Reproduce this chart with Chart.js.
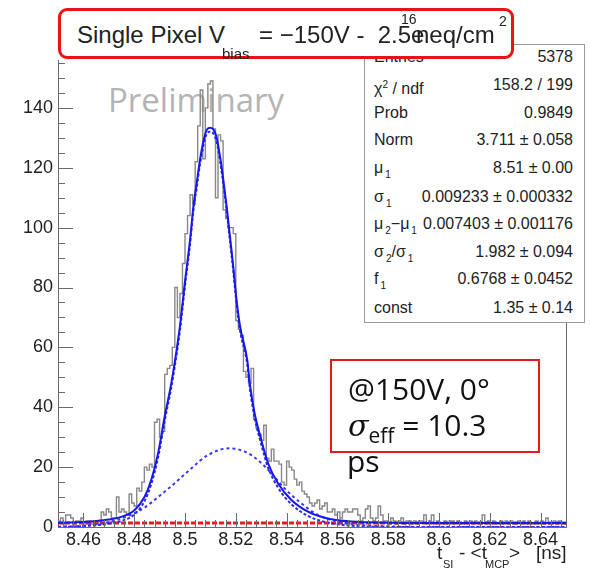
<!DOCTYPE html>
<html>
<head>
<meta charset="utf-8">
<script src="https://cdn.jsdelivr.net/npm/chart.js@4.4.1/dist/chart.umd.min.js"></script>
<style>
body { margin: 0; background: #fff; }
#wrap { position: relative; width: 590px; height: 577px; overflow: hidden; font-family: "Liberation Sans", Arial, sans-serif; color: #222; }
#wrap .t { position: absolute; white-space: nowrap; line-height: 1; }
#chart { position: absolute; left: 0; top: 0; z-index: 1; }
#prelim { z-index: 0; left: 108px; top: 83px; font-family: "Open Sans"; font-size: 33px; color: #b4b4b4; }
#stats { position: absolute; z-index: 2; left: 364px; top: 44px; width: 219px; height: 277px; border: 1px solid #999; background: #fff; }
#stats .k, #stats .v { position: absolute; font-size: 16px; line-height: 16px; white-space: nowrap; }
#stats .k { left: 9px; }
#stats .v { right: 11px; }
#stats sub { font-size: 10px; vertical-align: -5px; margin-left: 2px; }
#stats sup { font-size: 10px; vertical-align: 6px; }
#titlebox { position: absolute; z-index: 3; left: 58px; top: 8px; width: 450px; height: 45px; border: 3px solid #ef1111; border-radius: 9px; background: #fff; }
.tt { z-index: 4; font-size: 24px; }
#notebox { position: absolute; z-index: 3; left: 330px; top: 359px; width: 206px; height: 90px; border: 2px solid #e61a1a; }
.note { z-index: 4; font-family: "Open Sans"; font-size: 30px; color: #111; }
.xt { z-index: 4; font-size: 19px; }
.xs { z-index: 4; font-size: 11px; }
</style>
</head>
<body>
<div id="wrap">
  <div class="t" id="prelim">Preliminary</div>
  <canvas id="chart" width="590" height="577"></canvas>
  <div id="stats"></div>
  <div id="titlebox"></div>
  <span class="t tt" style="left:77px;top:23px">Single Pixel V</span>
  <span class="t tt" style="left:222px;top:46px;font-size:15px">bias</span>
  <span class="t tt" style="left:259px;top:23px">= &minus;150V -&nbsp;&nbsp;2.5e</span>
  <span class="t tt" style="left:401px;top:12px;font-size:14px">16</span>
  <span class="t tt" style="left:416px;top:23px">neq/cm</span>
  <span class="t tt" style="left:499px;top:14px;font-size:14px">2</span>
  <div id="notebox"></div>
  <span class="t note" style="left:348px;top:374px">@150V, 0°</span>
  <span class="t note" style="left:348px;top:410px"><span style="font-family:'DejaVu Serif';font-style:italic">σ</span><sub style="font-size:21px">eff</sub> = 10.3</span>
  <span class="t note" style="left:347px;top:446px">ps</span>
  <span class="t xt" style="left:437px;top:543px">t</span>
  <span class="t xs" style="left:443px;top:559px">SI</span>
  <span class="t xt" style="left:459px;top:543px">- &lt;t</span>
  <span class="t xs" style="left:485px;top:559px">MCP</span>
  <span class="t xt" style="left:509px;top:543px">&gt;</span>
  <span class="t xt" style="left:536px;top:543px">[ns]</span>
</div>
<script>
// histogram: 200 bins from 8.45 to 8.65 ns
const histMin = 8.45;
const histMax = 8.65;
const binWidth = 0.001;
const counts = [
    2, 2, 3, 1, 4, 4, 3, 1, 2, 2,
    3, 1, 2, 2, 1, 2, 1, 2, 5, 4,
    6, 5, 3, 3, 10, 5, 6, 5, 4, 11,
    8, 7, 13, 12, 15, 20, 19, 21, 20, 35,
    36, 30, 32, 51, 53, 54, 60, 80, 70, 78,
    88, 98, 104, 111, 108, 122, 134, 146, 123, 140,
    148, 149, 133, 110, 131, 129, 106, 103, 100, 100,
    98, 69, 66, 64, 52, 50, 48, 53, 36, 33,
    31, 29, 34, 23, 22, 26, 22, 22, 21, 15,
    14, 22, 20, 19, 16, 14, 15, 12, 11, 10,
    8, 7, 8, 9, 6, 7, 8, 5, 5, 6,
    4, 5, 3, 5, 6, 5, 5, 6, 6, 4,
    2, 3, 6, 7, 3, 2, 3, 7, 4, 2,
    2, 1, 3, 2, 1, 2, 3, 1, 2, 2,
    1, 2, 1, 2, 2, 4, 1, 2, 4, 1,
    2, 1, 1, 2, 1, 2, 2, 1, 2, 1,
    1, 2, 1, 2, 1, 2, 1, 1, 4, 1,
    2, 1, 2, 1, 1, 2, 1, 2, 1, 2,
    1, 1, 2, 1, 2, 1, 2, 1, 1, 2,
    1, 2, 1, 3, 1, 1, 2, 1, 2, 1
];

// fit curves
const fitX = [8.45, 8.455, 8.46, 8.465, 8.47, 8.4749, 8.4802, 8.4841, 8.4867, 8.4894, 8.4920, 8.4946, 8.4965, 8.4980, 8.5000,
    8.5020, 8.5033, 8.5046, 8.5059, 8.5072, 8.5085, 8.5098, 8.5111, 8.5125, 8.5138, 8.5151, 8.5164, 8.5177, 8.5190,
    8.5203, 8.5217, 8.5245, 8.5255, 8.5274, 8.5300, 8.5327, 8.5366, 8.5419, 8.5484, 8.5550, 8.5655, 8.58, 8.60, 8.62, 8.65];
const fitTotal = [1.4, 1.5, 1.7, 2.0, 2.5, 3.4, 5.7, 10.1, 15.7, 24.6, 36.9, 48.0, 58.0, 67.0, 82.0,
    96.0, 107.0, 114.8, 122.6, 128.7, 132.6, 133.4, 132.9, 129.9, 123.7, 115.9, 107.0, 97.0, 87.0,
    75.8, 66.9, 55.8, 48.0, 38.0, 29.1, 21.3, 14.6, 9.0, 5.1, 3.1, 1.8, 1.45, 1.36, 1.35, 1.35];
const fitSignal = [0.0, 0.1, 0.3, 0.6, 1.1, 2.0, 4.3, 8.7, 14.3, 23.2, 35.5, 46.6, 56.6, 65.6, 80.6,
    94.6, 105.6, 113.4, 121.2, 127.3, 131.2, 132.0, 131.5, 128.5, 122.3, 114.5, 105.6, 95.6, 85.6,
    74.4, 65.5, 54.4, 46.6, 36.6, 27.7, 19.9, 13.2, 7.6, 3.7, 1.7, 0.4, 0.05, 0, 0, 0];
const gaus2X = [8.45, 8.46, 8.468, 8.4762, 8.4841, 8.4894, 8.4959, 8.5025, 8.5091, 8.5176, 8.5235,
    8.5287, 8.5340, 8.5392, 8.5458, 8.5524, 8.5602, 8.57, 8.58, 8.60, 8.65];
const gaus2Y = [0.1, 0.4, 1.3, 3.2, 6.5, 10.0, 14.6, 19.6, 24.1, 26.3, 25.2,
    22.4, 17.9, 12.9, 7.9, 4.0, 1.8, 0.6, 0.2, 0, 0];
const constLevel = 1.35;

const xTickValues = [8.46, 8.48, 8.5, 8.52, 8.54, 8.56, 8.58, 8.6, 8.62, 8.64];
const yTickValues = [0, 20, 40, 60, 80, 100, 120, 140];
const yMax = 156;

function pts(xs, ys) {
    return xs.map((x, i) => ({ x: x, y: ys[i] }));
}

// histogram outline as steps at bin low edges
let histPoints = counts.map((c, i) => ({ x: histMin + i * binWidth, y: c }));
histPoints.push({ x: histMax, y: counts[counts.length - 1] });

// ROOT style inward ticks with minor divisions
const axisTicks = {
    id: 'axisTicks',
    afterDatasetsDraw(chart) {
        const { ctx, chartArea: a, scales: { x, y } } = chart;
        ctx.save();
        ctx.strokeStyle = '#6a6a6a';
        ctx.lineWidth = 1;
        ctx.beginPath();
        const k0 = Math.ceil(histMin / 0.004 - 1e-6), k1 = Math.floor(histMax / 0.004 + 1e-6);
        for (let k = k0; k <= k1; k++) {
            const px = Math.round(x.getPixelForValue(k * 0.004)) + 0.5;
            const len = (k % 5 == 0) ? 14 : 7;
            ctx.moveTo(px, a.bottom);
            ctx.lineTo(px, a.bottom - len);
        }
        for (let v = 0; v <= yMax; v += 5) {
            const py = Math.round(y.getPixelForValue(v)) + 0.5;
            const len = (v % 20 == 0) ? 15 : 7;
            ctx.moveTo(a.left, py);
            ctx.lineTo(a.left + len, py);
        }
        ctx.moveTo(Math.round(a.right) + 0.5, a.top);
        ctx.lineTo(Math.round(a.right) + 0.5, a.bottom);
        ctx.stroke();
        ctx.restore();
    }
};

const tickFont = { family: 'Liberation Sans', size: 18 };

new Chart(document.getElementById('chart'), {
    type: 'line',
    data: {
        datasets: [
            { data: pts(fitX, fitTotal), borderColor: '#1616ee', borderWidth: 2, pointRadius: 0, fill: false, cubicInterpolationMode: 'monotone' },
            { data: pts(fitX, fitSignal), borderColor: '#2a2af5', borderWidth: 2, borderDash: [3, 2], pointRadius: 0, fill: false, cubicInterpolationMode: 'monotone' },
            { data: pts(gaus2X, gaus2Y), borderColor: '#3a3af5', borderWidth: 2, borderDash: [3, 3], pointRadius: 0, fill: false, cubicInterpolationMode: 'monotone' },
            { data: [{ x: histMin, y: constLevel }, { x: histMax, y: constLevel }], borderColor: '#f01818', borderWidth: 3, borderDash: [5, 2], pointRadius: 0, fill: false },
            { data: histPoints, borderColor: '#888', borderWidth: 1.4, stepped: 'after', pointRadius: 0, fill: false }
        ]
    },
    options: {
        responsive: false,
        animation: false,
        layout: { padding: { left: 0, right: 24, top: 60, bottom: 0 } },
        plugins: { legend: { display: false }, tooltip: { enabled: false } },
        scales: {
            x: {
                type: 'linear',
                min: histMin,
                max: histMax,
                afterFit: (s) => { s.height = 50; },
                afterBuildTicks: (s) => { s.ticks = xTickValues.map((v) => ({ value: v })); },
                grid: { display: false, drawTicks: false },
                border: { display: true, color: '#6a6a6a', width: 1 },
                ticks: {
                    autoSkip: false, maxRotation: 0,
                    padding: 2, color: '#222', font: tickFont,
                    callback: (v) => String(+v.toFixed(2))
                }
            },
            y: {
                min: 0,
                max: yMax,
                afterFit: (s) => { s.width = 58; },
                afterBuildTicks: (s) => { s.ticks = yTickValues.map((v) => ({ value: v })); },
                grid: { display: false, drawTicks: false },
                border: { display: true, color: '#6a6a6a', width: 1 },
                ticks: { padding: 5, color: '#222', font: tickFont }
            }
        }
    },
    plugins: [axisTicks]
});

// fit statistics box
const statLabels = ['Entries', 'χ<sup>2</sup> / ndf', 'Prob', 'Norm', 'μ<sub>1</sub>', 'σ<sub>1</sub>',
    'μ<sub>2</sub>−μ<sub>1</sub>', 'σ<sub>2</sub>/σ<sub>1</sub>', 'f<sub>1</sub>', 'const'];
const statValues = ['5378', '158.2 / 199', '0.9849', '3.711 ± 0.058', '8.51 ± 0.00', '0.009233 ± 0.000332',
    '0.007403 ± 0.001176', '1.982 ± 0.094', '0.6768 ± 0.0452', '1.35 ± 0.14'];
const statRowY = [57, 85, 113, 140, 168, 197, 224, 252, 279, 308];

const stats = document.getElementById('stats');
statLabels.forEach((lab, i) => {
    const top = statRowY[i] - 44 - 1 - 8;
    const k = document.createElement('div');
    k.className = 'k';
    k.style.top = top + 'px';
    k.innerHTML = lab;
    const v = document.createElement('div');
    v.className = 'v';
    v.style.top = top + 'px';
    v.textContent = statValues[i];
    stats.appendChild(k);
    stats.appendChild(v);
});
</script>
</body>
</html>
